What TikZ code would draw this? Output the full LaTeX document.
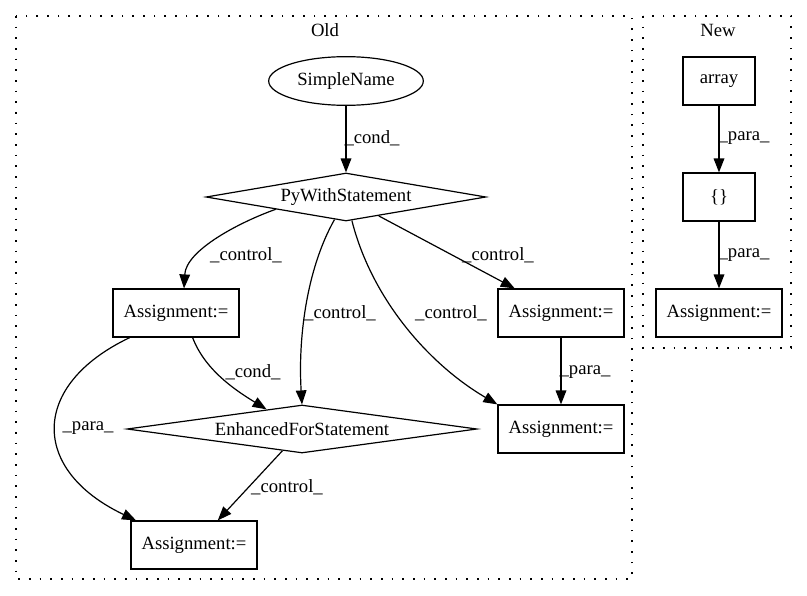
\documentclass[tikz,border=0pt]{standalone}
\usepackage{fontspec}
\setmainfont{Liberation Serif}
\usetikzlibrary{shapes.geometric,arrows.meta}
\begin{document}
\begin{tikzpicture}[x=0.75pt,y=-0.75pt,
  every node/.style={font=\fontsize{14}{16}\selectfont},
  line width=0.9pt,
  box/.style={draw,rectangle,inner sep=0pt,minimum height=36pt,minimum width=94.5pt},
  smallbox/.style={box,minimum width=54pt},
  term/.style={draw,ellipse,inner sep=0pt,minimum width=116pt,minimum height=36.5pt},
  cond/.style={draw,diamond,inner sep=0pt,minimum height=36pt},
  flow/.style={-{Triangle[length=10.5pt,width=8pt]}},
  lbl/.style={inner sep=0pt},
  cluster/.style={draw,dash pattern=on 1.2pt off 6.8pt}]
\useasboundingbox (0,0) rectangle (807,596);

% clusters
\draw[cluster] (16,16) rectangle (632,579);
\draw[cluster] (643,16) rectangle (791,348);
\node[lbl] (told) at (325,30) {Old};
\node[lbl] (tnew) at (718,30) {New};

% Old graph
\node[term] (sn) at (346,81) {SimpleName};
\node[cond,shape aspect=5.8,minimum width=210pt] (py) at (346,197) {PyWithStatement};
\node[box] (a1) at (176,313) {Assignment:=};
\node[box] (a2) at (561,313) {Assignment:=};
\node[cond,shape aspect=7.3,minimum width=262.5pt] (ef) at (302,429) {EnhancedForStatement};
\node[box] (a3) at (561,429) {Assignment:=};
\node[box] (a4) at (194,545) {Assignment:=};

% New graph
\node[smallbox] (arr) at (719,81) {array};
\node[smallbox] (br) at (719,197) {\{\}};
\node[box] (an) at (719,313) {Assignment:=};

% Old edges
\draw[flow] (sn.south) -- (py.north);
\draw[flow] (py.south west) .. controls (240,222) and (186,250) .. (a1.72);
\draw[flow] (py.-117) .. controls (306,270) and (298,340) .. (ef.north);
\draw[flow] (py.-76) .. controls (372,300) and (430,365) .. (a3.north west);
\draw[flow] (py.-30) -- (a2.152);
\draw[flow] (a1.-56) .. controls (205,370) and (235,390) .. (ef.151);
\draw[flow] (a1.-152) .. controls (30,385) and (30,470) .. (a4.157);
\draw[flow] (ef.-132) -- (a4.46);
\draw[flow] (a2.south) -- (a3.north);

% New edges
\draw[flow] (arr.south) -- (br.north);
\draw[flow] (br.south) -- (an.north);

% edge labels
\node[lbl] (l1) at (372,138) {\_cond\_};
\node[lbl] (l2) at (246,255) {\_control\_};
\node[lbl] (l3) at (340,313) {\_control\_};
\node[lbl] (l4) at (451,313) {\_control\_};
\node[lbl] (l5) at (498,255) {\_control\_};
\node[lbl] (l6) at (253,372) {\_cond\_};
\node[lbl] (l7) at (88,428) {\_para\_};
\node[lbl] (l8) at (287,487) {\_control\_};
\node[lbl] (l9) at (585,372) {\_para\_};
\node[lbl] (l10) at (744,138) {\_para\_};
\node[lbl] (l11) at (744,255) {\_para\_};
\end{tikzpicture}
\end{document}
